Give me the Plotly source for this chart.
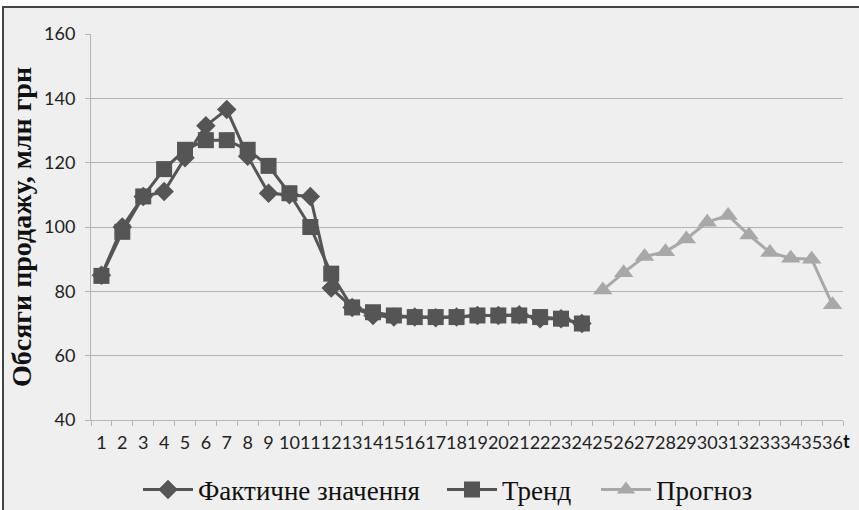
import plotly.graph_objects as go

periods = [str(p) for p in range(1, 37)]
actual_t = periods[:24]
actual = [85, 100, 109.5, 111, 121.5, 131.5, 136.5, 122, 110.5, 110, 109.5, 81,
          75, 72.5, 72, 72, 71.8, 72, 72.5, 72.5, 72.7, 71.5, 71.5, 70]
trend_t = periods[:24]
trend = [84.8, 98.5, 109.5, 118, 124, 127, 127, 124, 119, 110.5, 100, 85.5,
         75, 73.5, 72.5, 72, 72, 72, 72.5, 72.5, 72.5, 72, 71.5, 70]
forecast_t = periods[24:]
forecast = [80.4, 85.8, 90.8, 92.3, 96.3, 101.5, 103.6, 97.5, 92.1, 90.3, 90.0, 75.8]
y_ticks = [40, 60, 80, 100, 120, 140, 160]

W, H = 859, 510
L, R, T, B = 91, 16, 34, 90
pw, ph = W - L - R, H - T - B

def px_x(p):
    return (p - L) / pw

def px_y(p):
    return (H - B - p) / ph

dark = "#555555"
light = "#a8a8a8"
serif = "Liberation Serif"

fig = go.Figure()
fig.add_trace(go.Scatter(
    x=actual_t, y=actual, name="Фактичне значення", mode="lines+markers",
    line=dict(color=dark, width=3), legend="legend", showlegend=True,
    marker=dict(symbol="diamond", size=15, color=dark)))
fig.add_trace(go.Scatter(
    x=trend_t, y=trend, name="Тренд", mode="lines+markers",
    line=dict(color=dark, width=3), legend="legend2", showlegend=True,
    marker=dict(symbol="square", size=16, color=dark)))
fig.add_trace(go.Scatter(
    x=forecast_t, y=forecast, name="Прогноз", mode="lines+markers",
    line=dict(color=light, width=3), legend="legend3", showlegend=True,
    marker=dict(symbol="triangle-up", size=17, color=light)))

leg_common = dict(
    orientation="h", xanchor="left", y=px_y(490), yanchor="middle",
    font=dict(family=serif, size=27, color="#111111"),
    bgcolor="rgba(0,0,0,0)", itemwidth=50,
)

fig.update_layout(
    width=W, height=H,
    showlegend=True,
    margin=dict(l=L, r=R, t=T, b=B, autoexpand=False),
    paper_bgcolor="white",
    plot_bgcolor="rgba(0,0,0,0)",
    font=dict(family=serif, size=27, color="#111111"),
    xaxis=dict(
        type="category", categoryorder="array", categoryarray=periods,
        tickmode="array", tickvals=periods, ticktext=periods,
        range=[-0.5, 35.5], tickangle=0, tickson="boundaries",
        showgrid=False, showline=True, linecolor="#b5b5b5", linewidth=1,
        ticks="outside", ticklen=5, tickcolor="#b5b5b5",
        ticklabelstandoff=6,
        zeroline=False,
        tickfont=dict(family="Lato", size=18, color="#222222"),
    ),
    yaxis=dict(
        range=[40, 160], tickvals=y_ticks,
        showgrid=True, gridcolor="#b3b3b3", gridwidth=1,
        showline=True, linecolor="#b5b5b5", linewidth=1,
        ticks="outside", ticklen=5, tickcolor="#b5b5b5",
        ticklabelstandoff=6,
        tickfont=dict(family="Lato", size=18, color="#222222"),
        zeroline=False,
        title=dict(text="<b>Обсяги продажу, млн грн</b>",
                   font=dict(family=serif, size=28, color="#111111"),
                   standoff=4),
    ),
    legend=dict(leg_common, x=px_x(138)),
    legend2=dict(leg_common, x=px_x(442)),
    legend3=dict(leg_common, x=px_x(596)),
    shapes=[dict(
        type="rect", xref="paper", yref="paper", layer="below",
        x0=px_x(3), x1=px_x(875), y0=px_y(525), y1=px_y(7),
        fillcolor="#efefef", line=dict(color="#444444", width=2),
    )],
    annotations=[dict(
        text="<b>t</b>", xref="paper", yref="paper", x=px_x(841), y=px_y(441),
        xanchor="left", yanchor="middle", showarrow=False,
        font=dict(family="Lato", size=18, color="#111111"),
    )],
)

fig.write_html("out.html")
